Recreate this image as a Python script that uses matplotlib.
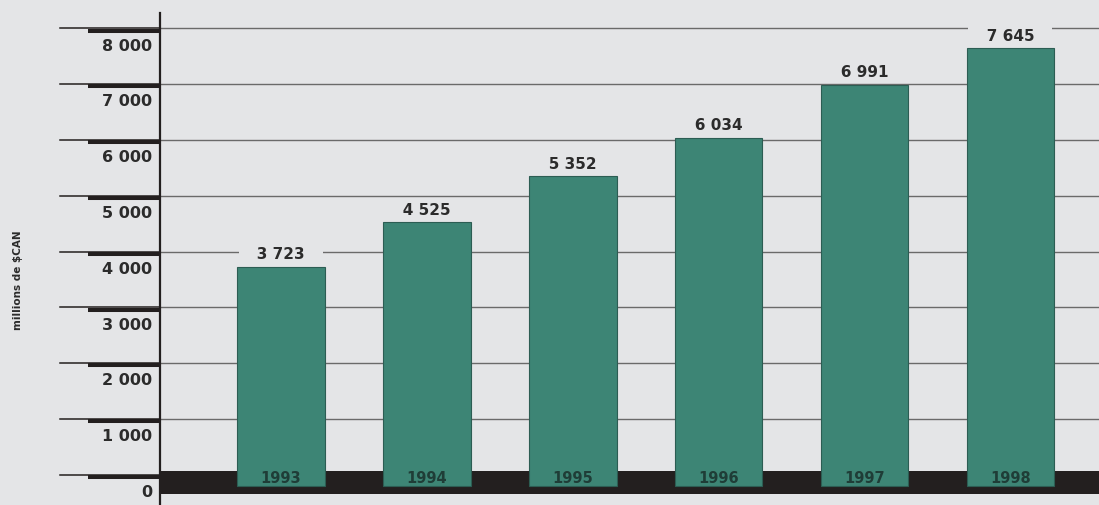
import matplotlib.pyplot as plt
import matplotlib.transforms as mtransforms

years = ["1993", "1994", "1995", "1996", "1997", "1998"]
values = [3723, 4525, 5352, 6034, 6991, 7645]
value_labels = ["3 723", "4 525", "5 352", "6 034", "6 991", "7 645"]
tick_values = [0, 1000, 2000, 3000, 4000, 5000, 6000, 7000, 8000]
tick_labels = ["0", "1 000", "2 000", "3 000", "4 000", "5 000", "6 000", "7 000", "8 000"]
ylabel = "millions de $CAN"

BG = "#e4e5e7"
BAR = "#3d8575"
BAR_EDGE = "#2c5d53"
DARK = "#231f1f"
GRID = "#6a6a6a"

plt.rcParams["font.family"] = ["Liberation Sans Narrow", "DejaVu Sans"]

fig = plt.figure(figsize=(10.99, 5.06), dpi=100, facecolor=BG)
ax = fig.add_axes([160 / 1099, 0.0, 1 - 160 / 1099, 1 - 14 / 506])
ax.set_facecolor(BG)

ax.set_xlim(-0.83, 5.607)
ax.set_ylim(-541, 8275)

# gridlines
for v in tick_values[1:]:
    ax.axhline(v, color=GRID, lw=1.0, zorder=1)

# thick black base band
ax.axhspan(-345, 70, color=DARK, zorder=2, lw=0)

x = list(range(len(years)))
ax.bar(x, [v + 200 for v in values], bottom=-200, width=0.6, color=BAR,
       edgecolor=BAR_EDGE, linewidth=0.8, zorder=4)

for xi, v, lab in zip(x, values, value_labels):
    ax.text(xi, v + 235, "   " + lab + "   ", ha="center", va="center",
            fontsize=11, fontweight="bold", color="#2b2b2b", zorder=3,
            bbox=dict(boxstyle="square,pad=0.15", facecolor=BG, edgecolor="none"))

for xi, y in zip(x, years):
    ax.text(xi, -40, y, ha="center", va="center", fontsize=10.5,
            fontweight="bold", color="#1f3d37", zorder=5)

# left axis line
ax.axvline(-0.83, color=DARK, lw=1.6, zorder=6, clip_on=False)

# left tick decorations: thin line with a thick shadow bar below, label under it
trans = mtransforms.blended_transform_factory(ax.transAxes, ax.transData)
for v, lab in zip(tick_values, tick_labels):
    ax.plot([-0.107, 0.0], [v, v], color=DARK, lw=1.1, transform=trans,
            clip_on=False, zorder=6)
    ax.plot([-0.077, 0.0], [v - 40, v - 40], color=DARK, lw=2.9,
            transform=trans, clip_on=False, zorder=6, solid_capstyle="butt")
    ax.text(-0.008, v - 300, lab, transform=trans, ha="right", va="center",
            fontsize=11.5, fontweight="bold", color="#2b2b2b")

for s in ax.spines.values():
    s.set_visible(False)
ax.set_xticks([])
ax.set_yticks([])

fig.text(18 / 1099, 1 - 280 / 506, ylabel, rotation=90, ha="center",
         va="center", fontsize=7.5, fontweight="bold", color="#2b2b2b")

fig.savefig("out.png", dpi=100, facecolor=BG)
